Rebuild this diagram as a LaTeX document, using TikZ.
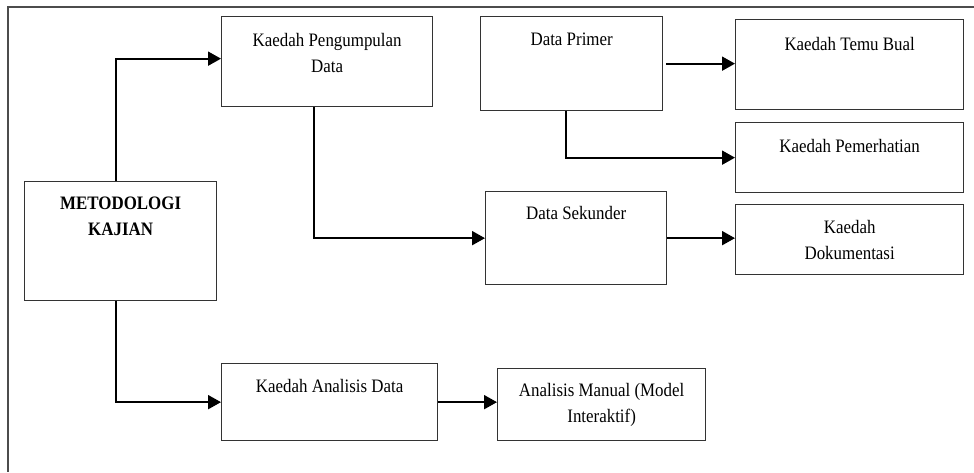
\documentclass[tikz,border=0pt]{standalone}
\usepackage{fontspec}
\setmainfont[FakeStretch=0.89]{Liberation Serif}
\usetikzlibrary{arrows.meta,positioning}

\begin{document}
\begin{tikzpicture}[x=1pt,y=-1pt,
  box/.style={draw=black!80,line width=1.3pt,anchor=north west,inner sep=0pt},
  txt/.style={inner sep=0pt,align=center,font=\fontsize{19}{26}\selectfont},
  arr/.style={line width=1.9pt,-{Triangle[length=13pt,width=14pt]}}]
\useasboundingbox (0,0) rectangle (974,472);
% frame of the page (cut off)
\draw[black!70,line width=1.4pt] (974,7) -- (8,7) -- (8,472);

% boxes
\node[box,minimum width=192pt,minimum height=119pt] (meth) at (24,181) {};
\node[box,minimum width=211pt,minimum height=90pt] (kpd) at (221,16) {};
\node[box,minimum width=182pt,minimum height=94pt] (dp) at (480,16) {};
\node[box,minimum width=228pt,minimum height=90pt] (ktb) at (735,19) {};
\node[box,minimum width=228pt,minimum height=70pt] (kp) at (735,122) {};
\node[box,minimum width=181pt,minimum height=93pt] (ds) at (485,191) {};
\node[box,minimum width=228pt,minimum height=70pt] (kd) at (735,204) {};
\node[box,minimum width=216pt,minimum height=77pt] (kad) at (221,363) {};
\node[box,minimum width=208pt,minimum height=72pt] (am) at (497,368) {};

% texts
\node[txt,font=\fontsize{19}{26}\selectfont\bfseries,below=16pt of meth.north] (methT) {METODOLOGI\\KAJIAN};
\node[txt,below=17pt of kpd.north] (kpdT) {Kaedah Pengumpulan\\Data};
\node[txt,below=17pt of dp.north] (dpT) {Data Primer};
\node[txt,below=18pt of ktb.north] (ktbT) {Kaedah Temu Bual};
\node[txt,below=17pt of kp.north] (kpT) {Kaedah Pemerhatian};
\node[txt,below=15pt of ds.north] (dsT) {Data Sekunder};
\node[txt,below=16pt of kd.north] (kdT) {Kaedah\\Dokumentasi};
\node[txt,below=16pt of kad.north] (kadT) {Kaedah Analisis Data};
\node[txt,below=15pt of am.north] (amT) {Analisis Manual (Model\\Interaktif)};

% arrows
\draw[arr] ([xshift=-5pt]meth.north) |- ([yshift=3pt]kpd.west);
\draw[arr] ([xshift=-13pt]kpd.south) |- (ds.west);
\draw[arr] ([xshift=3pt]dp.east) -- (dp.east -| ktb.west);
\draw[arr] ([xshift=-6pt]dp.south) |- (kp.west);
\draw[arr] (ds.east) -- (ds.east -| kd.west);
\draw[arr] ([xshift=-5pt]meth.south) |- (kad.west);
\draw[arr] (kad.east) -- (kad.east -| am.west);
\end{tikzpicture}
\end{document}
